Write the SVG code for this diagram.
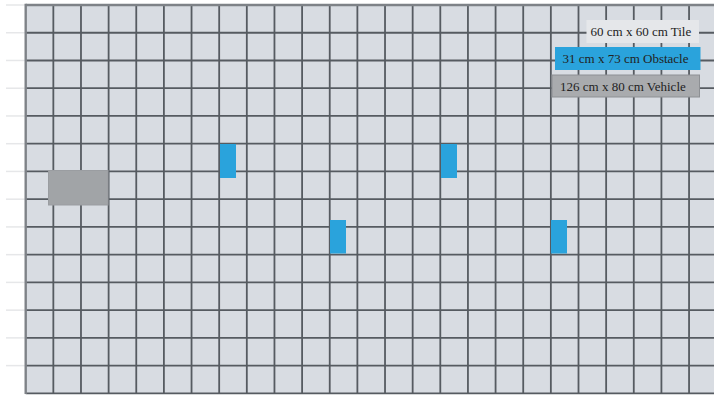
<svg xmlns="http://www.w3.org/2000/svg" width="714" height="395" viewBox="0 0 714 395">
<style>
.tick{stroke:#e6e7e9;stroke-width:1.5}
.g{stroke:#565b61;stroke-width:1.8}
.border{stroke:#7e8287;stroke-width:2.4}
.obst{fill:#2aa3dc}
.lbl{font-family:"Liberation Serif",serif;font-size:13px;fill:#222}
</style>
<defs>
<g id="vlines">
<line x1="53.34" y1="5" x2="53.34" y2="393.3"/><line x1="80.98" y1="5" x2="80.98" y2="393.3"/><line x1="108.62" y1="5" x2="108.62" y2="393.3"/><line x1="136.26" y1="5" x2="136.26" y2="393.3"/><line x1="163.9" y1="5" x2="163.9" y2="393.3"/><line x1="191.54" y1="5" x2="191.54" y2="393.3"/><line x1="219.18" y1="5" x2="219.18" y2="393.3"/><line x1="246.82" y1="5" x2="246.82" y2="393.3"/><line x1="274.46" y1="5" x2="274.46" y2="393.3"/><line x1="302.1" y1="5" x2="302.1" y2="393.3"/><line x1="329.74" y1="5" x2="329.74" y2="393.3"/><line x1="357.38" y1="5" x2="357.38" y2="393.3"/><line x1="385.02" y1="5" x2="385.02" y2="393.3"/><line x1="412.66" y1="5" x2="412.66" y2="393.3"/><line x1="440.3" y1="5" x2="440.3" y2="393.3"/><line x1="467.94" y1="5" x2="467.94" y2="393.3"/><line x1="495.58" y1="5" x2="495.58" y2="393.3"/><line x1="523.22" y1="5" x2="523.22" y2="393.3"/><line x1="550.86" y1="5" x2="550.86" y2="393.3"/><line x1="578.5" y1="5" x2="578.5" y2="393.3"/><line x1="606.14" y1="5" x2="606.14" y2="393.3"/><line x1="633.78" y1="5" x2="633.78" y2="393.3"/><line x1="661.42" y1="5" x2="661.42" y2="393.3"/><line x1="689.06" y1="5" x2="689.06" y2="393.3"/>
</g>
<g id="hlines">
<line x1="25.7" y1="32.74" x2="714" y2="32.74"/><line x1="25.7" y1="60.48" x2="714" y2="60.48"/><line x1="25.7" y1="88.22" x2="714" y2="88.22"/><line x1="25.7" y1="115.96" x2="714" y2="115.96"/><line x1="25.7" y1="143.7" x2="714" y2="143.7"/><line x1="25.7" y1="171.44" x2="714" y2="171.44"/><line x1="25.7" y1="199.18" x2="714" y2="199.18"/><line x1="25.7" y1="226.92" x2="714" y2="226.92"/><line x1="25.7" y1="254.66" x2="714" y2="254.66"/><line x1="25.7" y1="282.4" x2="714" y2="282.4"/><line x1="25.7" y1="310.14" x2="714" y2="310.14"/><line x1="25.7" y1="337.88" x2="714" y2="337.88"/><line x1="25.7" y1="365.62" x2="714" y2="365.62"/><line x1="25.7" y1="393.3" x2="714" y2="393.3"/>
</g>
</defs>
<rect x="0" y="0" width="714" height="395" fill="#ffffff"/>
<g id="ticks" class="tick">
<line x1="6" y1="5" x2="25" y2="5"/><line x1="6" y1="32.74" x2="25" y2="32.74"/><line x1="6" y1="60.48" x2="25" y2="60.48"/><line x1="6" y1="88.22" x2="25" y2="88.22"/><line x1="6" y1="115.96" x2="25" y2="115.96"/><line x1="6" y1="143.7" x2="25" y2="143.7"/><line x1="6" y1="171.44" x2="25" y2="171.44"/><line x1="6" y1="199.18" x2="25" y2="199.18"/><line x1="6" y1="226.92" x2="25" y2="226.92"/><line x1="6" y1="254.66" x2="25" y2="254.66"/><line x1="6" y1="282.4" x2="25" y2="282.4"/><line x1="6" y1="310.14" x2="25" y2="310.14"/><line x1="6" y1="337.88" x2="25" y2="337.88"/><line x1="6" y1="365.62" x2="25" y2="365.62"/>
</g>
<g id="grid">
<rect x="25.7" y="5" width="688.3" height="388.3" fill="#d8dce2"/>
<g class="g"><use href="#vlines"/><use href="#hlines"/></g>
<g class="border"><line x1="25.7" y1="5" x2="714" y2="5"/><line x1="25.7" y1="3.8" x2="25.7" y2="394"/></g>
</g>
<g id="vehicle"><rect x="48.5" y="170.5" width="59.5" height="34.5" fill="#a1a4a7" stroke="#9a9da1" stroke-width="1"/></g>
<g id="obstacle1"><rect class="obst" x="220" y="144" width="16" height="34"/></g>
<g id="obstacle2"><rect class="obst" x="441" y="144" width="16" height="34"/></g>
<g id="obstacle3"><rect class="obst" x="330" y="220" width="16" height="33.5"/></g>
<g id="obstacle4"><rect class="obst" x="551" y="220" width="16" height="33.5"/></g>
<g id="legend-tile"><rect x="586.5" y="20" width="112.5" height="23" fill="#e5e7ea"/><text class="lbl" x="590.5" y="35.5">60 cm x 60 cm Tile</text></g>
<g id="legend-obstacle"><rect x="555" y="47" width="145.5" height="23" fill="#2aa3dc"/><text class="lbl" x="562.5" y="62.5" fill="#1a2230">31 cm x 73 cm Obstacle</text></g>
<g id="legend-vehicle"><rect x="552" y="75" width="147.5" height="22" fill="#a9abae" stroke="#8d9094" stroke-width="1"/><text class="lbl" x="560" y="90.5">126 cm x 80 cm Vehicle</text></g>
</svg>
